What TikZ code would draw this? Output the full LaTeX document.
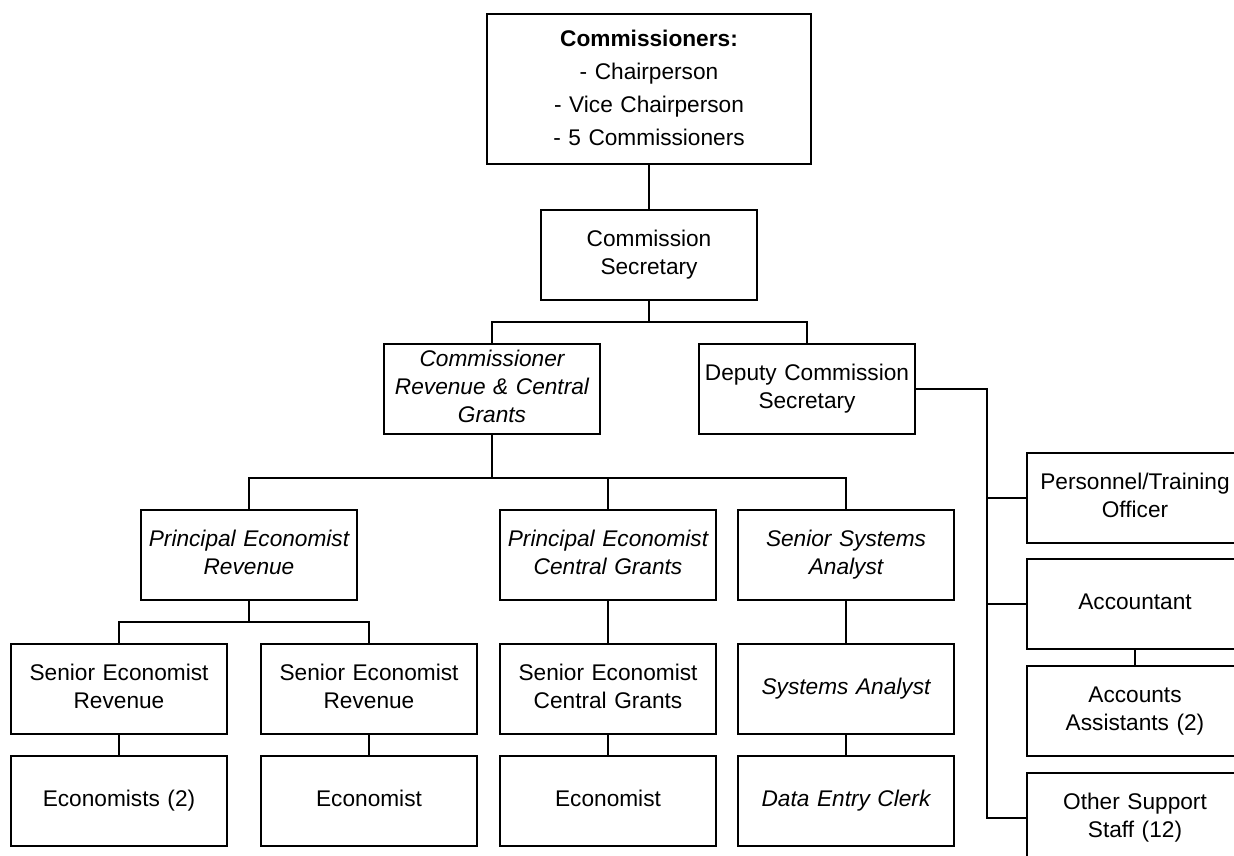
\documentclass[tikz,border=0pt]{standalone}
\usepackage{fontspec}
\setmainfont{Liberation Sans}
\usepackage{xcolor}
\usepackage{tikz}
\definecolor{ink}{HTML}{000000}
\definecolor{paper}{HTML}{FFFFFF}
\tikzset{
  postbox/.style={draw=ink, line width=0.75pt, fill=paper, minimum width=43.2mm, minimum height=18mm,
    text width=42mm, align=center, inner sep=0pt, font=\fontsize{12.9pt}{15.9pt}\selectfont,
    execute at begin node=\strut, execute at end node=\strut},
  headbox/.style={postbox, minimum width=64.8mm, minimum height=30mm, text width=62mm,
    font=\fontsize{12.9pt}{18.8pt}\selectfont},
  ital/.style={font=\fontsize{12.9pt}{15.9pt}\selectfont\itshape},
  link/.style={draw=ink, line width=0.75pt},
}

\begin{document}
\begin{tikzpicture}[x=0.2mm,y=-0.2mm]
  \fill[paper] (0,0) rectangle (1234,856);
  \useasboundingbox (0,0) rectangle (1234,856);
  \clip (0,0) rectangle (1234,856);
  % junctions
  \coordinate (j1) at (649,322);
  \coordinate (j2) at (492,478);
  \coordinate (j3) at (249,622);
  \coordinate (j4) at (987,389);
  % top
  \node[headbox] (board) at (649,89) {\textbf{Commissioners:}\\- Chairperson\\- Vice Chairperson\\- 5 Commissioners};
  \node[postbox] (csec) at (649,255) {Commission\\Secretary};
  \node[postbox,ital] (crcg) at (492,389) {Commissioner\\Revenue \& Central\\Grants};
  \node[postbox] (dcsec) at (807,389) {Deputy Commission\\Secretary};
  % economists
  \node[postbox,ital] (perev) at (249,555) {Principal Economist\\Revenue};
  \node[postbox,ital] (pecg) at (608,555) {Principal Economist\\Central Grants};
  \node[postbox,ital] (ssa) at (846,555) {Senior Systems\\Analyst};
  \node[postbox] (ser1) at (119,689) {Senior Economist\\Revenue};
  \node[postbox] (ser2) at (369,689) {Senior Economist\\Revenue};
  \node[postbox] (secg) at (608,689) {Senior Economist\\Central Grants};
  \node[postbox,ital] (sa) at (846,689) {Systems Analyst};
  \node[postbox] (eco1) at (119,801) {Economists (2)};
  \node[postbox] (eco2) at (369,801) {Economist};
  \node[postbox] (eco3) at (608,801) {Economist};
  \node[postbox,ital] (dec) at (846,801) {Data Entry Clerk};
  % support staff
  \node[postbox] (pto) at (1135,498) {Personnel/Training\\Officer};
  \node[postbox] (acc) at (1135,604) {Accountant};
  \node[postbox] (aa) at (1135,711) {Accounts\\Assistants (2)};
  \node[postbox] (oss) at (1135,818) {Other Support\\Staff (12)};
  % connectors
  \draw[link] (board) -- (csec);
  \draw[link] (csec) -- (j1) -| (crcg);
  \draw[link] (j1) -| (dcsec);
  \draw[link] (crcg) -- (j2) -| (perev);
  \draw[link] (j2) -| (pecg);
  \draw[link] (j2) -| (ssa);
  \draw[link] (perev) -- (j3) -| (ser1);
  \draw[link] (j3) -| (ser2);
  \draw[link] (dcsec) -- (j4) |- (oss);
  \foreach \n in {pto,acc}
    \draw[link] (j4) |- (\n);
  \foreach \a/\b in {ser1/eco1,ser2/eco2,pecg/secg,secg/eco3,ssa/sa,sa/dec,acc/aa}
    \draw[link] (\a) -- (\b);
\end{tikzpicture}
\end{document}
